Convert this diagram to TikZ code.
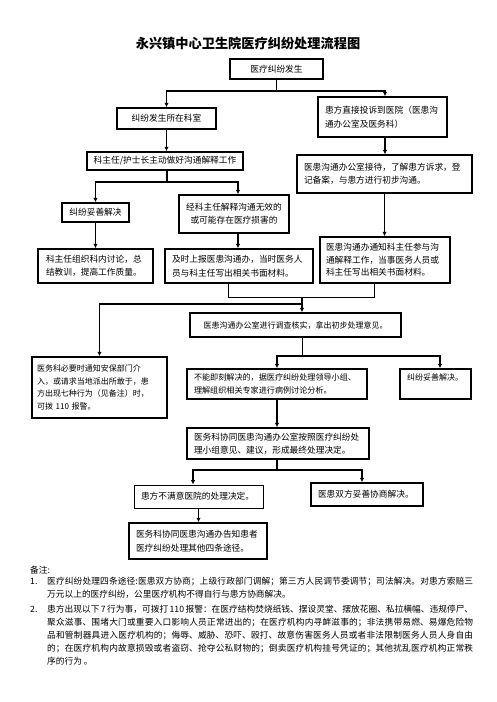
\documentclass[tikz,border=0pt]{standalone}
\usepackage{fontspec}
\setmainfont{Noto Sans CJK SC}
\usetikzlibrary{arrows.meta}
\newcommand\myfs[2]{\fontsize{#1}{#2}\selectfont}
\newcommand\mynotesetup{\XeTeXlinebreaklocale "zh"\relax\XeTeXlinebreakskip=0pt plus 1pt\relax}
\begin{document}
\begin{tikzpicture}[x=1pt,y=-1pt,
  box/.style={draw, line width=1.5pt, inner ysep=0pt, font=\myfs{8.7}{13.5}, align=left},
  cbox/.style={box, align=center},
  thinbox/.style={box, line width=1pt},
  arr/.style={line width=1.3pt, -{Latex[length=4.5pt,width=4.5pt]}},
  ln/.style={line width=1pt},
  note/.style={inner sep=0pt, font=\myfs{8.7}{13.6}}
]
\fill[white] (0,0) rectangle (496,702);
\useasboundingbox (0,0) rectangle (496,702);

\node[inner sep=0pt, font=\myfs{13.2}{15}\bfseries] (title) at (248,43) {永兴镇中心卫生院医疗纠纷处理流程图};

\node[cbox, minimum width=93pt, minimum height=20pt] (A) at (276.5,69) {医疗纠纷发生};
\node[cbox, minimum width=99pt, minimum height=21pt] (B) at (166.5,118.5) {纠纷发生所在科室};
\node[box, minimum width=129pt, minimum height=40pt, inner xsep=7pt, text width=115pt] (C) at (382.5,117) {患方直接投诉到医院（医患沟\\通办公室及医务科）};
\node[cbox, minimum width=156pt, minimum height=18pt, inner xsep=2pt] (D) at (165,161) {科主任/护士长主动做好沟通解释工作};
\node[box, line width=1.2pt, minimum width=175pt, minimum height=38pt, inner xsep=7pt, text width=161pt] (E) at (384.5,174) {医患沟通办公室接待，了解患方诉求，登\\记备案，与患方进行初步沟通。};
\node[cbox, minimum width=67pt, minimum height=19pt] (F) at (95.5,212.5) {纠纷妥善解决};
\node[cbox, minimum width=110pt, minimum height=38pt, font=\myfs{8.7}{13}] (G) at (234,214) {经科主任解释沟通无效的\\或可能存在医疗损害的};
\node[box, minimum width=115pt, minimum height=34pt, inner xsep=8pt, text width=99pt] (H) at (95.5,266) {科主任组织科内讨论，总\\结教训，提高工作质量。};
\node[box, minimum width=148pt, minimum height=34pt, inner xsep=7pt, text width=134pt] (I) at (239,266) {及时上报医患沟通办，当时医务人\\员与科主任写出相关书面材料。};
\node[box, minimum width=130pt, minimum height=46pt, inner xsep=6pt, text width=118pt, font=\myfs{8.7}{12.5}] (J) at (385,260) {医患沟通办通知科主任参与沟\\通解释工作，当事医务人员或\\科主任写出相关书面材料。};
\node[cbox, minimum width=211pt, minimum height=24pt, font=\myfs{8}{12}] (K) at (295.5,325) {医患沟通办公室进行调查核实，拿出初步处理意见。};
\node[box, minimum width=135pt, minimum height=61pt, inner xsep=5pt, text width=125pt, font=\myfs{8}{12.5}] (L) at (99.5,387.5) {医务科必要时通知安保部门介\\入，或请求当地派出所敢于，患\\方出现七种行为（见备注）时，\\可拨 110 报警。};
\node[box, minimum width=180pt, minimum height=30pt, inner xsep=7pt, text width=166pt, font=\myfs{8.1}{13}] (M) at (277,384) {不能即刻解决的，据医疗纠纷处理领导小组、\\理解组织相关专家进行病例讨论分析。};
\node[box, minimum width=71pt, minimum height=30pt, inner xsep=7pt, text width=57pt, font=\myfs{8}{13}] (N) at (435.5,384) {纠纷妥善解决。\\~};
\node[box, minimum width=182pt, minimum height=31pt, inner xsep=7pt, text width=168pt, font=\myfs{8.7}{13}] (O) at (278,443.5) {医务科协同医患沟通办公室按照医疗纠纷处\\理小组意见、建议，形成最终处理决定。};
\node[thinbox, minimum width=129pt, minimum height=23pt, inner xsep=7pt, text width=115pt] (P) at (198.5,496.5) {患方不满意医院的处理决定。};
\node[box, minimum width=112pt, minimum height=23pt, inner xsep=7pt, text width=98pt] (Q) at (367,494.5) {医患双方妥善协商解决。};
\node[box, minimum width=138pt, minimum height=36pt, inner xsep=7pt, text width=124pt, font=\myfs{8.7}{14}] (R) at (198,541) {医务科协同医患沟通办告知患者\\医疗纠纷处理其他四条途径。};

% connectors
\coordinate (t1) at (276.5,91);
\draw[arr] (A.south) -- (t1) -| (B.north);
\draw[arr] (t1) -| ([xshift=2.5pt]C.north);
\draw[arr] (B.south) -- (B.south |- D.north);
\draw[arr] ([xshift=2.5pt]C.south) -- ([xshift=2.5pt]C.south |- E.north);
\coordinate (t2) at (167,182);
\draw[arr] (D.south -| t2) -- (t2) -| (F.north);
\draw[arr] (t2) -| ([xshift=4pt]G.north);
\draw[arr] (F.south) -- (F.south |- H.north);
\draw[arr] ([xshift=4pt]G.south) -- ([xshift=4pt]G.south |- I.north);
\draw[arr] (E.south) -- (E.south |- J.north);
\coordinate (j1) at (228,297);
\coordinate (j2) at (374,297);
\coordinate (j3) at (302,297);
\coordinate (j4) at (302,304);
\draw[ln] (I.south -| j1) -- (j1) -- (j2) -- (J.south -| j2);
\draw[arr] (j3) -- (j3 |- K.north);
\draw[arr] (j4) -| (L.north);
\coordinate (k1) at (302,356);
\draw[ln] (K.south -| k1) -- (k1);
\draw[arr] (k1) -| (M.north);
\draw[arr] (k1) -| ([xshift=4.5pt]N.north);
\draw[arr] (M.south) -- (M.south |- O.north);
\coordinate (o1) at (277,470);
\draw[arr] (O.south -| o1) -- (o1) -| ([xshift=-5.5pt]P.north);
\draw[arr] (o1) -| ([xshift=-5pt]Q.north);
\draw[arr] (P.south) -- (P.south |- R.north);

% notes
\node[note, anchor=west] (nh) at (30,570) {备注:};
\node[note, anchor=base west] (m1) at (30,584) {1.};
\node[note, anchor=base west, text width=426pt, align=justify] (n1) at (47,584) {\mynotesetup 医疗纠纷处理四条途径:医患双方协商；上级行政部门调解；第三方人民调节委调节；司法解决。对患方索赔三\linebreak 万元以上的医疗纠纷，公里医疗机构不得自行与患方协商解决。};
\node[note, anchor=base west] (m2) at (30,612) {2.};
\node[note, anchor=base west, text width=426pt, align=justify, font=\myfs{8.7}{13.2}] (n2) at (47,612) {\mynotesetup 患方出现以下\,7\,行为事，可拨打\,110\,报警：在医疗结构焚烧纸钱、摆设灵堂、摆放花圈、私拉横幅、违规停尸、\linebreak 聚众滋事、围堵大门或重要入口影响人员正常进出的；在医疗机构内寻衅滋事的；非法携带易燃、易爆危险物\linebreak 品和管制器具进入医疗机构的；侮辱、威胁、恐吓、殴打、故意伤害医务人员或者非法限制医务人员人身自由\linebreak 的；在医疗机构内故意损毁或者盗窃、抢夺公私财物的；倒卖医疗机构挂号凭证的；其他扰乱医疗机构正常秩\linebreak 序的行为 。};
\end{tikzpicture}
\end{document}
